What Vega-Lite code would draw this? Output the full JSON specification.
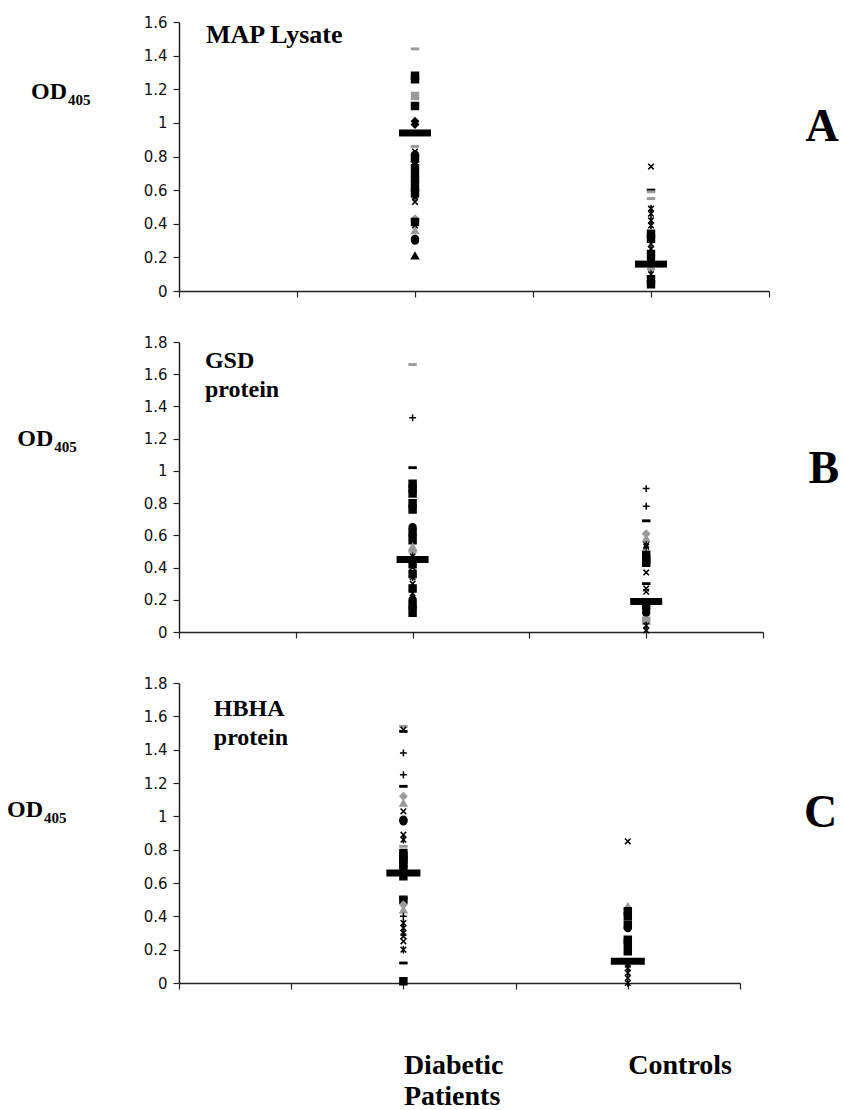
{
  "$schema": "https://vega.github.io/schema/vega-lite/v6.json",
  "background": "white",
  "padding": {"left": 6, "top": 15, "right": 0, "bottom": 0},
  "bounds": "flush",
  "spacing": 51,
  "resolve": {"scale": {"x": "independent", "y": "independent"}},
  "config": {
    "view": {"stroke": null},
    "axis": {"grid": false, "domainColor": "#222", "domainWidth": 1.5, "tickColor": "#222", "tickWidth": 1.2, "tickSize": 6, "labelColor": "#111", "labelFont": "DejaVu Sans", "labelFontSize": 15, "labelPadding": 6, "labelOverlap": false, "title": null}
  },
  "datasets": {
    "points": [
      {"panel":"A","pos":2,"od":1.44,"series":"s12"},{"panel":"A","pos":2,"od":1.28,"series":"s1"},{"panel":"A","pos":2,"od":1.26,"series":"s1"},{"panel":"A","pos":2,"od":1.16,"series":"s2"},{"panel":"A","pos":2,"od":1.10,"series":"s1"},{"panel":"A","pos":2,"od":1.01,"series":"s3"},{"panel":"A","pos":2,"od":0.99,"series":"s3"},{"panel":"A","pos":2,"od":0.86,"series":"s12"},{"panel":"A","pos":2,"od":0.83,"series":"s7"},{"panel":"A","pos":2,"od":0.81,"series":"s9"},{"panel":"A","pos":2,"od":0.79,"series":"s1"},{"panel":"A","pos":2,"od":0.77,"series":"s3"},{"panel":"A","pos":2,"od":0.75,"series":"s8"},{"panel":"A","pos":2,"od":0.73,"series":"s1"},{"panel":"A","pos":2,"od":0.70,"series":"s9"},{"panel":"A","pos":2,"od":0.67,"series":"s1"},{"panel":"A","pos":2,"od":0.65,"series":"s3"},{"panel":"A","pos":2,"od":0.62,"series":"s1"},{"panel":"A","pos":2,"od":0.60,"series":"s9"},{"panel":"A","pos":2,"od":0.58,"series":"s1"},{"panel":"A","pos":2,"od":0.56,"series":"s8"},{"panel":"A","pos":2,"od":0.53,"series":"s7"},{"panel":"A","pos":2,"od":0.43,"series":"s4"},{"panel":"A","pos":2,"od":0.41,"series":"s1"},{"panel":"A","pos":2,"od":0.39,"series":"s8"},{"panel":"A","pos":2,"od":0.36,"series":"s6"},{"panel":"A","pos":2,"od":0.31,"series":"s9"},{"panel":"A","pos":2,"od":0.30,"series":"s9"},{"panel":"A","pos":2,"od":0.21,"series":"s5"},
      {"panel":"A","pos":4,"od":0.74,"series":"s7"},{"panel":"A","pos":4,"od":0.60,"series":"s11"},{"panel":"A","pos":4,"od":0.59,"series":"s12"},{"panel":"A","pos":4,"od":0.55,"series":"s12"},{"panel":"A","pos":4,"od":0.49,"series":"s8"},{"panel":"A","pos":4,"od":0.46,"series":"s8"},{"panel":"A","pos":4,"od":0.42,"series":"s8"},{"panel":"A","pos":4,"od":0.39,"series":"s8"},{"panel":"A","pos":4,"od":0.34,"series":"s1"},{"panel":"A","pos":4,"od":0.31,"series":"s1"},{"panel":"A","pos":4,"od":0.28,"series":"s7"},{"panel":"A","pos":4,"od":0.25,"series":"s8"},{"panel":"A","pos":4,"od":0.22,"series":"s1"},{"panel":"A","pos":4,"od":0.19,"series":"s9"},{"panel":"A","pos":4,"od":0.13,"series":"s4"},{"panel":"A","pos":4,"od":0.10,"series":"s8"},{"panel":"A","pos":4,"od":0.07,"series":"s1"},{"panel":"A","pos":4,"od":0.04,"series":"s1"},
      {"panel":"B","pos":2,"od":1.66,"series":"s12"},{"panel":"B","pos":2,"od":1.33,"series":"s10"},{"panel":"B","pos":2,"od":1.02,"series":"s11"},{"panel":"B","pos":2,"od":0.92,"series":"s1"},{"panel":"B","pos":2,"od":0.89,"series":"s1"},{"panel":"B","pos":2,"od":0.86,"series":"s1"},{"panel":"B","pos":2,"od":0.80,"series":"s1"},{"panel":"B","pos":2,"od":0.78,"series":"s9"},{"panel":"B","pos":2,"od":0.76,"series":"s1"},{"panel":"B","pos":2,"od":0.65,"series":"s9"},{"panel":"B","pos":2,"od":0.62,"series":"s1"},{"panel":"B","pos":2,"od":0.60,"series":"s3"},{"panel":"B","pos":2,"od":0.57,"series":"s1"},{"panel":"B","pos":2,"od":0.53,"series":"s6"},{"panel":"B","pos":2,"od":0.50,"series":"s12"},{"panel":"B","pos":2,"od":0.47,"series":"s8"},{"panel":"B","pos":2,"od":0.42,"series":"s1"},{"panel":"B","pos":2,"od":0.40,"series":"s7"},{"panel":"B","pos":2,"od":0.36,"series":"s1"},{"panel":"B","pos":2,"od":0.34,"series":"s8"},{"panel":"B","pos":2,"od":0.30,"series":"s7"},{"panel":"B","pos":2,"od":0.27,"series":"s1"},{"panel":"B","pos":2,"od":0.24,"series":"s8"},{"panel":"B","pos":2,"od":0.20,"series":"s9"},{"panel":"B","pos":2,"od":0.17,"series":"s1"},{"panel":"B","pos":2,"od":0.15,"series":"s9"},{"panel":"B","pos":2,"od":0.12,"series":"s1"},
      {"panel":"B","pos":4,"od":0.89,"series":"s10"},{"panel":"B","pos":4,"od":0.78,"series":"s10"},{"panel":"B","pos":4,"od":0.69,"series":"s11"},{"panel":"B","pos":4,"od":0.61,"series":"s4"},{"panel":"B","pos":4,"od":0.58,"series":"s6"},{"panel":"B","pos":4,"od":0.54,"series":"s8"},{"panel":"B","pos":4,"od":0.53,"series":"s8"},{"panel":"B","pos":4,"od":0.48,"series":"s1"},{"panel":"B","pos":4,"od":0.45,"series":"s1"},{"panel":"B","pos":4,"od":0.43,"series":"s1"},{"panel":"B","pos":4,"od":0.37,"series":"s7"},{"panel":"B","pos":4,"od":0.30,"series":"s11"},{"panel":"B","pos":4,"od":0.27,"series":"s7"},{"panel":"B","pos":4,"od":0.25,"series":"s7"},{"panel":"B","pos":4,"od":0.16,"series":"s1"},{"panel":"B","pos":4,"od":0.12,"series":"s9"},{"panel":"B","pos":4,"od":0.07,"series":"s2"},{"panel":"B","pos":4,"od":0.04,"series":"s8"},{"panel":"B","pos":4,"od":0.01,"series":"s7"},
      {"panel":"C","pos":2,"od":1.54,"series":"s12"},{"panel":"C","pos":2,"od":1.52,"series":"s7"},{"panel":"C","pos":2,"od":1.51,"series":"s11"},{"panel":"C","pos":2,"od":1.38,"series":"s10"},{"panel":"C","pos":2,"od":1.25,"series":"s10"},{"panel":"C","pos":2,"od":1.18,"series":"s11"},{"panel":"C","pos":2,"od":1.12,"series":"s4"},{"panel":"C","pos":2,"od":1.08,"series":"s6"},{"panel":"C","pos":2,"od":1.03,"series":"s7"},{"panel":"C","pos":2,"od":0.98,"series":"s9"},{"panel":"C","pos":2,"od":0.97,"series":"s9"},{"panel":"C","pos":2,"od":0.89,"series":"s7"},{"panel":"C","pos":2,"od":0.86,"series":"s8"},{"panel":"C","pos":2,"od":0.82,"series":"s12"},{"panel":"C","pos":2,"od":0.78,"series":"s1"},{"panel":"C","pos":2,"od":0.76,"series":"s1"},{"panel":"C","pos":2,"od":0.74,"series":"s1"},{"panel":"C","pos":2,"od":0.72,"series":"s1"},{"panel":"C","pos":2,"od":0.70,"series":"s9"},{"panel":"C","pos":2,"od":0.68,"series":"s1"},{"panel":"C","pos":2,"od":0.64,"series":"s1"},{"panel":"C","pos":2,"od":0.51,"series":"s11"},{"panel":"C","pos":2,"od":0.50,"series":"s1"},{"panel":"C","pos":2,"od":0.47,"series":"s4"},{"panel":"C","pos":2,"od":0.44,"series":"s6"},{"panel":"C","pos":2,"od":0.40,"series":"s10"},{"panel":"C","pos":2,"od":0.36,"series":"s8"},{"panel":"C","pos":2,"od":0.33,"series":"s8"},{"panel":"C","pos":2,"od":0.30,"series":"s8"},{"panel":"C","pos":2,"od":0.28,"series":"s7"},{"panel":"C","pos":2,"od":0.25,"series":"s7"},{"panel":"C","pos":2,"od":0.20,"series":"s8"},{"panel":"C","pos":2,"od":0.12,"series":"s11"},{"panel":"C","pos":2,"od":0.01,"series":"s1"},
      {"panel":"C","pos":4,"od":0.85,"series":"s7"},{"panel":"C","pos":4,"od":0.46,"series":"s6"},{"panel":"C","pos":4,"od":0.43,"series":"s1"},{"panel":"C","pos":4,"od":0.40,"series":"s1"},{"panel":"C","pos":4,"od":0.35,"series":"s1"},{"panel":"C","pos":4,"od":0.33,"series":"s9"},{"panel":"C","pos":4,"od":0.26,"series":"s1"},{"panel":"C","pos":4,"od":0.24,"series":"s1"},{"panel":"C","pos":4,"od":0.21,"series":"s8"},{"panel":"C","pos":4,"od":0.19,"series":"s1"},{"panel":"C","pos":4,"od":0.11,"series":"s7"},{"panel":"C","pos":4,"od":0.09,"series":"s8"},{"panel":"C","pos":4,"od":0.06,"series":"s8"},{"panel":"C","pos":4,"od":0.03,"series":"s7"},{"panel":"C","pos":4,"od":0.00,"series":"s8"}
    ],
    "means": [
      {"panel":"A","pos":2,"mean":0.94},{"panel":"A","pos":4,"mean":0.16},
      {"panel":"B","pos":2,"mean":0.45},{"panel":"B","pos":4,"mean":0.19},
      {"panel":"C","pos":2,"mean":0.66},{"panel":"C","pos":4,"mean":0.13}
    ]
  },
  "vconcat": [
    {
      "width": 590, "height": 269,
      "layer": [
        {
          "data": {"name": "points"},
          "transform": [{"filter": "datum.panel == 'A'"}],
          "mark": {"type": "point", "filled": true, "opacity": 1, "strokeWidth": 1.5, "size": 48},
          "encoding": {
            "x": {"field": "pos", "type": "quantitative", "scale": {"domain": [0, 5]}, "axis": {"values": [0,1,2,3,4,5], "tickCount": 20, "labels": false}},
            "y": {"field": "od", "type": "quantitative", "scale": {"domain": [0, 1.6]}, "axis": {"values": [0,0.2,0.4,0.6,0.8,1,1.2,1.4,1.6], "tickCount": 20, "format": "~g", "labelOverlap": false, "labelBound": false, "labelFlush": false}},
            "shape": {"field": "series", "type": "nominal", "legend": null, "scale": {"domain": ["s1","s2","s3","s4","s5","s6","s7","s8","s9","s10","s11","s12"], "range": ["square","square","diamond","diamond","triangle-up","triangle-up","M-0.8,-0.8L0.8,0.8M-0.8,0.8L0.8,-0.8","M-0.8,-0.8L0.8,0.8M-0.8,0.8L0.8,-0.8M0,-1.1L0,1.1","circle","M0,-1L0,1M-1,0L1,0","M-1,-0.2L1,-0.2L1,0.2L-1,0.2Z","M-1,-0.2L1,-0.2L1,0.2L-1,0.2Z"]}},
            "fill": {"field": "series", "type": "nominal", "legend": null, "scale": {"domain": ["s1","s2","s3","s4","s5","s6","s7","s8","s9","s10","s11","s12"], "range": ["#000000","#9a9a9a","#000000","#9a9a9a","#000000","#9a9a9a","#000000","#000000","#000000","#000000","#000000","#9a9a9a"]}},
            "stroke": {"field": "series", "type": "nominal", "legend": null, "scale": {"domain": ["s1","s2","s3","s4","s5","s6","s7","s8","s9","s10","s11","s12"], "range": ["#000000","#9a9a9a","#000000","#9a9a9a","#000000","#9a9a9a","#000000","#000000","#000000","#000000","#000000","#9a9a9a"]}}
          }
        },
        {
          "data": {"name": "means"},
          "transform": [{"filter": "datum.panel == 'A'"}],
          "mark": {"type": "tick", "orient": "horizontal", "size": 32, "thickness": 7, "color": "#000", "opacity": 1},
          "encoding": {"x": {"field": "pos", "type": "quantitative"}, "y": {"field": "mean", "type": "quantitative"}}
        },
        {
          "data": {"values": [{}]},
          "mark": {"type": "text", "text": "MAP Lysate", "font": "Liberation Serif", "fontWeight": "bold", "fontSize": 26, "align": "left", "baseline": "alphabetic", "color": "#000"},
          "encoding": {"x": {"datum": 0.229, "type": "quantitative"}, "y": {"datum": 1.476, "type": "quantitative"}}
        },
        {
          "data": {"values": [{}]},
          "mark": {"type": "text", "text": "OD", "font": "Liberation Serif", "fontWeight": "bold", "fontSize": 24, "align": "left", "baseline": "middle", "color": "#000"},
          "encoding": {"x": {"datum": -1.254, "type": "quantitative"}, "y": {"datum": 1.185, "type": "quantitative"}}
        },
        {
          "data": {"values": [{}]},
          "mark": {"type": "text", "text": "405", "font": "Liberation Serif", "fontWeight": "bold", "fontSize": 15, "align": "left", "baseline": "middle", "dx": 37, "dy": 8, "color": "#000"},
          "encoding": {"x": {"datum": -1.254, "type": "quantitative"}, "y": {"datum": 1.185, "type": "quantitative"}}
        },
        {
          "data": {"values": [{}]},
          "mark": {"type": "text", "text": "A", "font": "Liberation Serif", "fontWeight": "bold", "fontSize": 46, "align": "left", "baseline": "middle", "color": "#000"},
          "encoding": {"x": {"datum": 5.31, "type": "quantitative"}, "y": {"datum": 0.976, "type": "quantitative"}}
        }
      ]
    },
    {
      "width": 584, "height": 290,
      "layer": [
        {
          "data": {"name": "points"},
          "transform": [{"filter": "datum.panel == 'B'"}],
          "mark": {"type": "point", "filled": true, "opacity": 1, "strokeWidth": 1.5, "size": 48},
          "encoding": {
            "x": {"field": "pos", "type": "quantitative", "scale": {"domain": [0, 5]}, "axis": {"values": [0,1,2,3,4,5], "tickCount": 20, "labels": false}},
            "y": {"field": "od", "type": "quantitative", "scale": {"domain": [0, 1.8]}, "axis": {"values": [0,0.2,0.4,0.6,0.8,1,1.2,1.4,1.6,1.8], "tickCount": 20, "format": "~g", "labelOverlap": false, "labelBound": false, "labelFlush": false}},
            "shape": {"field": "series", "type": "nominal", "legend": null, "scale": {"domain": ["s1","s2","s3","s4","s5","s6","s7","s8","s9","s10","s11","s12"], "range": ["square","square","diamond","diamond","triangle-up","triangle-up","M-0.8,-0.8L0.8,0.8M-0.8,0.8L0.8,-0.8","M-0.8,-0.8L0.8,0.8M-0.8,0.8L0.8,-0.8M0,-1.1L0,1.1","circle","M0,-1L0,1M-1,0L1,0","M-1,-0.2L1,-0.2L1,0.2L-1,0.2Z","M-1,-0.2L1,-0.2L1,0.2L-1,0.2Z"]}},
            "fill": {"field": "series", "type": "nominal", "legend": null, "scale": {"domain": ["s1","s2","s3","s4","s5","s6","s7","s8","s9","s10","s11","s12"], "range": ["#000000","#9a9a9a","#000000","#9a9a9a","#000000","#9a9a9a","#000000","#000000","#000000","#000000","#000000","#9a9a9a"]}},
            "stroke": {"field": "series", "type": "nominal", "legend": null, "scale": {"domain": ["s1","s2","s3","s4","s5","s6","s7","s8","s9","s10","s11","s12"], "range": ["#000000","#9a9a9a","#000000","#9a9a9a","#000000","#9a9a9a","#000000","#000000","#000000","#000000","#000000","#9a9a9a"]}}
          }
        },
        {
          "data": {"name": "means"},
          "transform": [{"filter": "datum.panel == 'B'"}],
          "mark": {"type": "tick", "orient": "horizontal", "size": 32, "thickness": 7, "color": "#000", "opacity": 1},
          "encoding": {"x": {"field": "pos", "type": "quantitative"}, "y": {"field": "mean", "type": "quantitative"}}
        },
        {
          "data": {"values": [{}]},
          "mark": {"type": "text", "text": "GSD", "font": "Liberation Serif", "fontWeight": "bold", "fontSize": 24, "align": "left", "baseline": "alphabetic", "color": "#000"},
          "encoding": {"x": {"datum": 0.222, "type": "quantitative"}, "y": {"datum": 1.64, "type": "quantitative"}}
        },
        {
          "data": {"values": [{}]},
          "mark": {"type": "text", "text": "protein", "font": "Liberation Serif", "fontWeight": "bold", "fontSize": 24, "align": "left", "baseline": "alphabetic", "color": "#000"},
          "encoding": {"x": {"datum": 0.222, "type": "quantitative"}, "y": {"datum": 1.46, "type": "quantitative"}}
        },
        {
          "data": {"values": [{}]},
          "mark": {"type": "text", "text": "OD", "font": "Liberation Serif", "fontWeight": "bold", "fontSize": 24, "align": "left", "baseline": "middle", "color": "#000"},
          "encoding": {"x": {"datum": -1.385, "type": "quantitative"}, "y": {"datum": 1.2, "type": "quantitative"}}
        },
        {
          "data": {"values": [{}]},
          "mark": {"type": "text", "text": "405", "font": "Liberation Serif", "fontWeight": "bold", "fontSize": 15, "align": "left", "baseline": "middle", "dx": 37, "dy": 8, "color": "#000"},
          "encoding": {"x": {"datum": -1.385, "type": "quantitative"}, "y": {"datum": 1.2, "type": "quantitative"}}
        },
        {
          "data": {"values": [{}]},
          "mark": {"type": "text", "text": "B", "font": "Liberation Serif", "fontWeight": "bold", "fontSize": 46, "align": "left", "baseline": "middle", "color": "#000"},
          "encoding": {"x": {"datum": 5.39, "type": "quantitative"}, "y": {"datum": 1.01, "type": "quantitative"}}
        }
      ]
    },
    {
      "width": 561, "height": 300,
      "layer": [
        {
          "data": {"name": "points"},
          "transform": [{"filter": "datum.panel == 'C'"}],
          "mark": {"type": "point", "filled": true, "opacity": 1, "strokeWidth": 1.5, "size": 48},
          "encoding": {
            "x": {"field": "pos", "type": "quantitative", "scale": {"domain": [0, 5]}, "axis": {"values": [0,1,2,3,4,5], "tickCount": 20, "labelExpr": "datum.value == 2 ? ['Diabetic', 'Patients'] : (datum.value == 4 ? 'Controls' : '')", "labelFont": "Liberation Serif", "labelFontWeight": "bold", "labelFontSize": 28, "labelColor": "#000", "labelAlign": "left", "labelDx": -37, "labelBaseline": "top", "labelPadding": 62, "labelLineHeight": 31, "labelOverlap": false, "labelFlush": false, "labelBound": false}},
            "y": {"field": "od", "type": "quantitative", "scale": {"domain": [0, 1.8]}, "axis": {"values": [0,0.2,0.4,0.6,0.8,1,1.2,1.4,1.6,1.8], "tickCount": 20, "format": "~g", "labelOverlap": false, "labelBound": false, "labelFlush": false}},
            "shape": {"field": "series", "type": "nominal", "legend": null, "scale": {"domain": ["s1","s2","s3","s4","s5","s6","s7","s8","s9","s10","s11","s12"], "range": ["square","square","diamond","diamond","triangle-up","triangle-up","M-0.8,-0.8L0.8,0.8M-0.8,0.8L0.8,-0.8","M-0.8,-0.8L0.8,0.8M-0.8,0.8L0.8,-0.8M0,-1.1L0,1.1","circle","M0,-1L0,1M-1,0L1,0","M-1,-0.2L1,-0.2L1,0.2L-1,0.2Z","M-1,-0.2L1,-0.2L1,0.2L-1,0.2Z"]}},
            "fill": {"field": "series", "type": "nominal", "legend": null, "scale": {"domain": ["s1","s2","s3","s4","s5","s6","s7","s8","s9","s10","s11","s12"], "range": ["#000000","#9a9a9a","#000000","#9a9a9a","#000000","#9a9a9a","#000000","#000000","#000000","#000000","#000000","#9a9a9a"]}},
            "stroke": {"field": "series", "type": "nominal", "legend": null, "scale": {"domain": ["s1","s2","s3","s4","s5","s6","s7","s8","s9","s10","s11","s12"], "range": ["#000000","#9a9a9a","#000000","#9a9a9a","#000000","#9a9a9a","#000000","#000000","#000000","#000000","#000000","#9a9a9a"]}}
          }
        },
        {
          "data": {"name": "means"},
          "transform": [{"filter": "datum.panel == 'C'"}],
          "mark": {"type": "tick", "orient": "horizontal", "size": 34, "thickness": 7, "color": "#000", "opacity": 1},
          "encoding": {"x": {"field": "pos", "type": "quantitative"}, "y": {"field": "mean", "type": "quantitative"}}
        },
        {
          "data": {"values": [{}]},
          "mark": {"type": "text", "text": "HBHA", "font": "Liberation Serif", "fontWeight": "bold", "fontSize": 24, "align": "left", "baseline": "alphabetic", "color": "#000"},
          "encoding": {"x": {"datum": 0.31, "type": "quantitative"}, "y": {"datum": 1.6, "type": "quantitative"}}
        },
        {
          "data": {"values": [{}]},
          "mark": {"type": "text", "text": "protein", "font": "Liberation Serif", "fontWeight": "bold", "fontSize": 24, "align": "left", "baseline": "alphabetic", "color": "#000"},
          "encoding": {"x": {"datum": 0.31, "type": "quantitative"}, "y": {"datum": 1.43, "type": "quantitative"}}
        },
        {
          "data": {"values": [{}]},
          "mark": {"type": "text", "text": "OD", "font": "Liberation Serif", "fontWeight": "bold", "fontSize": 24, "align": "left", "baseline": "middle", "color": "#000"},
          "encoding": {"x": {"datum": -1.533, "type": "quantitative"}, "y": {"datum": 1.04, "type": "quantitative"}}
        },
        {
          "data": {"values": [{}]},
          "mark": {"type": "text", "text": "405", "font": "Liberation Serif", "fontWeight": "bold", "fontSize": 15, "align": "left", "baseline": "middle", "dx": 37, "dy": 8, "color": "#000"},
          "encoding": {"x": {"datum": -1.533, "type": "quantitative"}, "y": {"datum": 1.04, "type": "quantitative"}}
        },
        {
          "data": {"values": [{}]},
          "mark": {"type": "text", "text": "C", "font": "Liberation Serif", "fontWeight": "bold", "fontSize": 46, "align": "left", "baseline": "middle", "color": "#000"},
          "encoding": {"x": {"datum": 5.57, "type": "quantitative"}, "y": {"datum": 1.02, "type": "quantitative"}}
        }
      ]
    }
  ]
}
